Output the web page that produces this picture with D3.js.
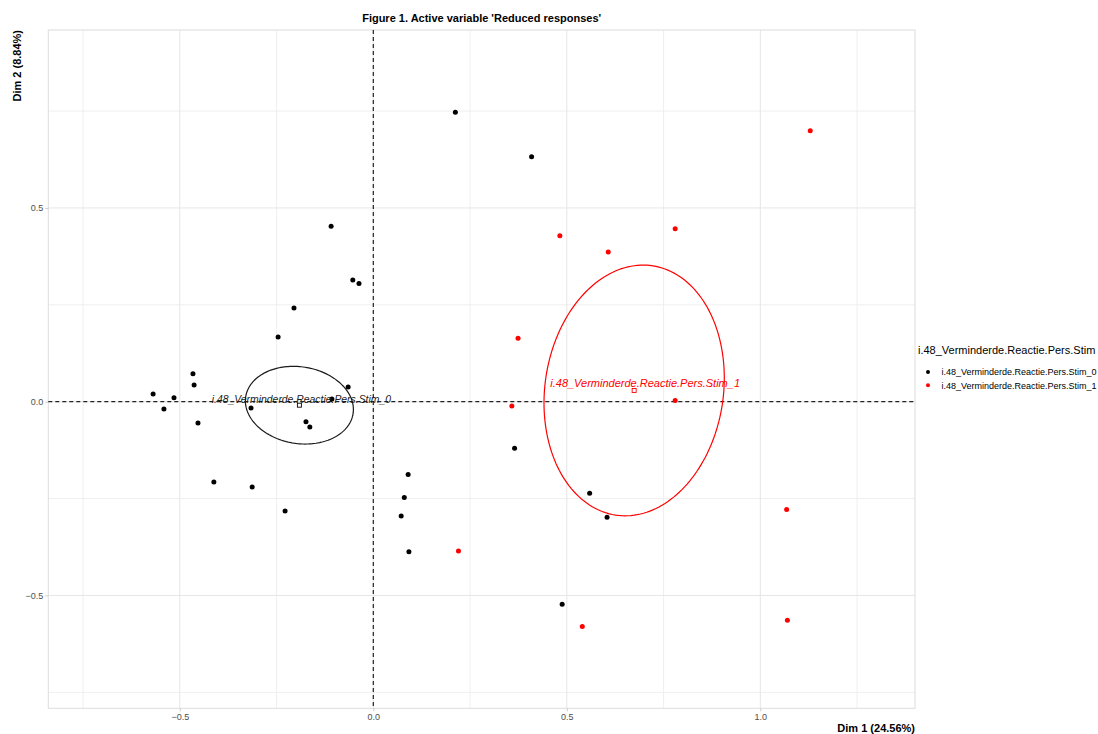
<!DOCTYPE html>
<html><head><meta charset="utf-8">
<script src="https://cdn.jsdelivr.net/npm/d3@7"></script>
<style>
body{margin:0;background:#fff;}
text{font-family:Arial,"Liberation Sans",sans-serif;}
</style>
</head><body>
<svg id="chart" width="1098" height="734"></svg>
<script>
// ---------- data ----------
const groups = ["i.48_Verminderde.Reactie.Pers.Stim_0", "i.48_Verminderde.Reactie.Pers.Stim_1"];
const legendTitle = "i.48_Verminderde.Reactie.Pers.Stim";
const groupColors = ["#000000", "#FF0000"];

const stim0X = [0.212, 0.409, -0.109, -0.053, -0.037, -0.205, -0.246, -0.466, -0.463, -0.569, -0.515, -0.541, -0.453, -0.316, -0.174, -0.164, -0.065, -0.107, -0.412, -0.313, -0.228, 0.090, 0.080, 0.072, 0.092, 0.365, 0.559, 0.604, 0.488];
const stim0Y = [0.747, 0.632, 0.453, 0.314, 0.305, 0.242, 0.167, 0.072, 0.043, 0.020, 0.010, -0.019, -0.055, -0.016, -0.052, -0.065, 0.038, 0.007, -0.207, -0.220, -0.282, -0.188, -0.247, -0.295, -0.387, -0.120, -0.236, -0.298, -0.523];
const stim1X = [1.129, 0.482, 0.607, 0.780, 0.374, 0.358, 0.780, 1.068, 0.220, 0.540, 1.070];
const stim1Y = [0.699, 0.428, 0.386, 0.446, 0.164, -0.011, 0.003, -0.278, -0.385, -0.580, -0.564];

const groupMeanX = [-0.191, 0.674];
const groupMeanY = [-0.009, 0.029];
// confidence ellipse shape (variance / covariance, data units)
const ellipseVarX = [0.01947, 0.05426];
const ellipseVarY = [0.01005, 0.10464];
const ellipseCovXY = [-0.00155, 0.0075];

const xTicks = [-0.5, 0.0, 0.5, 1.0];
const xTickLabels = ["\u22120.5", "0.0", "0.5", "1.0"];
const yTicks = [-0.5, 0.0, 0.5];
const yTickLabels = ["\u22120.5", "0.0", "0.5"];
const xMinorTicks = [-0.75, -0.25, 0.25, 0.75, 1.25];
const yMinorTicks = [-0.75, -0.25, 0.25, 0.75];

const titleText = "Figure 1. Active variable 'Reduced responses'";
const xTitle = "Dim 1 (24.56%)";
const yTitle = "Dim 2 (8.84%)";

// ---------- layout ----------
const P = {l: 48.3, r: 915, t: 30, b: 708.3};
const svg = d3.select("#chart");
const x = d3.scaleLinear().domain([-0.8398, 1.3997]).range([P.l, P.r]);
const y = d3.scaleLinear().domain([-0.7912, 0.9592]).range([P.b, P.t]);

// grid
const grid = svg.append("g");
grid.selectAll(".vmin").data(xMinorTicks).join("line")
  .attr("x1", d => x(d)).attr("x2", d => x(d)).attr("y1", P.t).attr("y2", P.b)
  .attr("stroke", "#ebebeb").attr("stroke-width", 0.8);
grid.selectAll(".hmin").data(yMinorTicks).join("line")
  .attr("y1", d => y(d)).attr("y2", d => y(d)).attr("x1", P.l).attr("x2", P.r)
  .attr("stroke", "#ebebeb").attr("stroke-width", 0.8);
grid.selectAll(".vmaj").data(xTicks).join("line")
  .attr("x1", d => x(d)).attr("x2", d => x(d)).attr("y1", P.t).attr("y2", P.b)
  .attr("stroke", "#e6e6e6").attr("stroke-width", 1);
grid.selectAll(".hmaj").data(yTicks).join("line")
  .attr("y1", d => y(d)).attr("y2", d => y(d)).attr("x1", P.l).attr("x2", P.r)
  .attr("stroke", "#e6e6e6").attr("stroke-width", 1);
svg.append("rect").attr("x", P.l).attr("y", P.t).attr("width", P.r - P.l).attr("height", P.b - P.t)
  .attr("fill", "none").attr("stroke", "#dcdcdc").attr("stroke-width", 1);

// axes
const xAxis = svg.append("g").attr("transform", `translate(0,${P.b})`)
  .call(d3.axisBottom(x).tickValues(xTicks).tickFormat((d, i) => xTickLabels[i]).tickSize(3).tickPadding(2));
const yAxis = svg.append("g").attr("transform", `translate(${P.l},0)`)
  .call(d3.axisLeft(y).tickValues(yTicks).tickFormat((d, i) => yTickLabels[i]).tickSize(3).tickPadding(2));
[xAxis, yAxis].forEach(a => {
  a.select(".domain").remove();
  a.selectAll(".tick line").attr("stroke", "#cccccc");
  a.selectAll(".tick text").attr("fill", "#4d4d4d").style("font-size", "9px").style("font-family", "Arial,'Liberation Sans',sans-serif");
});

// zero dashed lines
svg.append("line").attr("x1", x(0)).attr("x2", x(0)).attr("y1", P.t).attr("y2", P.b)
  .attr("stroke", "#222").attr("stroke-width", 1.2).attr("stroke-dasharray", "4,3");
svg.append("line").attr("y1", y(0)).attr("y2", y(0)).attr("x1", P.l).attr("x2", P.r)
  .attr("stroke", "#222").attr("stroke-width", 1.2).attr("stroke-dasharray", "4,3");

// ellipses
const line = d3.line().x(d => x(d[0])).y(d => y(d[1]));
groups.forEach((g, i) => {
  const a = Math.sqrt(ellipseVarX[i]);
  const l21 = ellipseCovXY[i] / a;
  const l22 = Math.sqrt(ellipseVarY[i] - l21 * l21);
  const pts = d3.range(0, 361, 2).map(deg => {
    const t = deg * Math.PI / 180;
    const u = Math.cos(t), v = Math.sin(t);
    return [groupMeanX[i] + a * u, groupMeanY[i] + l21 * u + l22 * v];
  });
  svg.append("path").attr("d", line(pts)).attr("fill", "none")
    .attr("stroke", i === 0 ? "#1a1a1a" : groupColors[i]).attr("stroke-width", 1.2);
});

// points
const sets = [[stim0X, stim0Y], [stim1X, stim1Y]];
sets.forEach((s, i) => {
  svg.append("g").selectAll("circle").data(s[0].map((v, k) => [v, s[1][k]])).join("circle")
    .attr("cx", d => x(d[0])).attr("cy", d => y(d[1])).attr("r", 2.5)
    .attr("fill", groupColors[i]);
});

// means and labels
groups.forEach((g, i) => {
  svg.append("rect").attr("x", x(groupMeanX[i]) - 2).attr("y", y(groupMeanY[i]) - 2)
    .attr("width", 4).attr("height", 4).attr("fill", "none")
    .attr("stroke", groupColors[i]).attr("stroke-width", 0.9);
});
svg.append("text").attr("x", x(groupMeanX[0]) + 2).attr("y", y(groupMeanY[0]) - 2)
  .attr("text-anchor", "middle").attr("font-style", "italic").attr("font-size", "10.4px")
  .attr("fill", "#1a1a1a").text(groups[0]);
svg.append("text").attr("x", x(groupMeanX[1]) + 11).attr("y", y(groupMeanY[1]) - 3)
  .attr("text-anchor", "middle").attr("font-style", "italic").attr("font-size", "11px")
  .attr("fill", groupColors[1]).text(groups[1]);

// titles
svg.append("text").attr("x", (P.l + P.r) / 2).attr("y", 22).attr("text-anchor", "middle")
  .attr("font-weight", "bold").attr("font-size", "11px").attr("fill", "#000").text(titleText);
svg.append("text").attr("x", P.r).attr("y", 732).attr("text-anchor", "end")
  .attr("font-weight", "bold").attr("font-size", "11px").attr("fill", "#000").text(xTitle);
svg.append("text").attr("transform", `translate(21,${P.t}) rotate(-90)`).attr("text-anchor", "end")
  .attr("font-weight", "bold").attr("font-size", "11px").attr("fill", "#000").text(yTitle);

// legend
const lg = svg.append("g").attr("transform", "translate(918,0)");
lg.append("text").attr("x", 0).attr("y", 354).attr("font-size", "11px").attr("fill", "#000").text(legendTitle);
groups.forEach((g, i) => {
  lg.append("circle").attr("cx", 10).attr("cy", 372 + i * 13.3).attr("r", 2).attr("fill", groupColors[i]);
  lg.append("text").attr("x", 23.5).attr("y", 375.3 + i * 13.3).attr("font-size", "9px").attr("fill", "#000").text(g);
});
</script>
</body></html>
